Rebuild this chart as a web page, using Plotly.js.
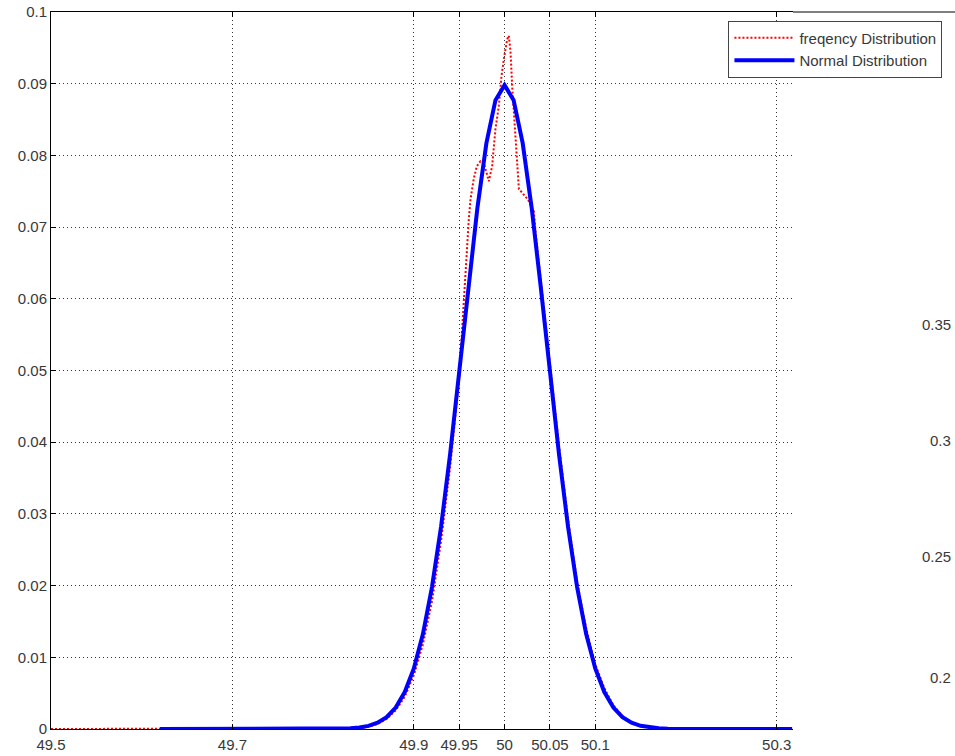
<!DOCTYPE html>
<html>
<head>
<meta charset="utf-8">
<script src="https://cdn.plot.ly/plotly-3.0.1.min.js"></script>
<style>
html,body{margin:0;padding:0;background:#fff;}
#chart{width:955px;height:756px;}
</style>
</head>
<body>
<div id="chart"></div>
<script>
// Frequency distribution (red dotted)
const freqX = [49.50, 49.60, 49.70, 49.80, 49.84, 49.85, 49.86, 49.87, 49.88, 49.89, 49.90, 49.91, 49.92, 49.93, 49.94, 49.95, 49.955, 49.9588, 49.9606, 49.9625, 49.966, 49.9695, 49.9735, 49.977, 49.980, 49.9827, 49.9863, 49.990, 49.9937, 49.9967, 49.9992, 50.0029, 50.0047, 50.0066, 50.0084, 50.0103, 50.0121, 50.0139, 50.0158, 50.0194, 50.026, 50.0323, 50.0342, 50.04, 50.05, 50.06, 50.07, 50.08, 50.09, 50.10, 50.11, 50.12, 50.13, 50.14, 50.15, 50.16, 50.20, 50.317];
const freqY = [0, 0, 0, 0, 0.0001, 0.0003, 0.0007, 0.0014, 0.0026, 0.0045, 0.0075, 0.0118, 0.0178, 0.0262, 0.0365, 0.0490, 0.0600, 0.0683, 0.0711, 0.0739, 0.0767, 0.0785, 0.0792, 0.0790, 0.0775, 0.0764, 0.0785, 0.0837, 0.0869, 0.0911, 0.0934, 0.0962, 0.0967, 0.0944, 0.0897, 0.0861, 0.0827, 0.0785, 0.0753, 0.0748, 0.0738, 0.0722, 0.0693, 0.0625, 0.0510, 0.0395, 0.0292, 0.0205, 0.0140, 0.0090, 0.0057, 0.0033, 0.0018, 0.0009, 0.0004, 0.0002, 0, 0];

// Normal distribution (blue solid)
const normX = [49.62, 49.80, 49.81, 49.82, 49.83, 49.84, 49.85, 49.86, 49.87, 49.88, 49.89, 49.90, 49.91, 49.92, 49.93, 49.94, 49.95, 49.96, 49.97, 49.98, 49.99, 50.00, 50.01, 50.02, 50.03, 50.04, 50.05, 50.06, 50.07, 50.08, 50.09, 50.10, 50.11, 50.12, 50.13, 50.14, 50.15, 50.16, 50.17, 50.18, 50.19, 50.20, 50.317];
const normY = [0, 0, 0.00002, 0.00004, 0.0001, 0.00021, 0.00044, 0.00087, 0.00166, 0.00299, 0.00515, 0.00845, 0.01324, 0.01979, 0.02821, 0.03835, 0.04974, 0.06153, 0.07260, 0.08170, 0.08770, 0.0898, 0.08770, 0.08170, 0.07260, 0.06153, 0.04974, 0.03835, 0.02821, 0.01979, 0.01324, 0.00845, 0.00515, 0.00299, 0.00166, 0.00087, 0.00044, 0.00021, 0.0001, 0.00004, 0.00002, 0, 0];

const xTicks = [49.5, 49.7, 49.9, 49.95, 50, 50.05, 50.1, 50.3];
const xTickText = ['49.5', '49.7', '49.9', '49.95', '50', '50.05', '50.1', '50.3'];
const yTicks = [0, 0.01, 0.02, 0.03, 0.04, 0.05, 0.06, 0.07, 0.08, 0.09, 0.1];
const yTickText = ['0', '0.01', '0.02', '0.03', '0.04', '0.05', '0.06', '0.07', '0.08', '0.09', '0.1'];

const seriesNames = ['freqency Distribution', 'Normal Distribution'];
const strayLabels = ['0.35', '0.3', '0.25', '0.2'];
const strayLabelY = [0.5635, 0.4017, 0.2399, 0.0725];

const FONT = 'Liberation Sans, Arial, sans-serif';
const TXT = '#383838';
const FS = 15;

const traces = [
  {x: freqX, y: freqY, type: 'scatter', mode: 'lines', name: seriesNames[0],
   line: {color: '#ff0000', width: 2, dash: '2px,2px'}},
  {x: normX, y: normY, type: 'scatter', mode: 'lines', name: seriesNames[1],
   line: {color: '#0000ff', width: 4}}
];

const layout = {
  width: 955, height: 756,
  margin: {l: 51, r: 162, t: 12, b: 27, pad: 0},
  paper_bgcolor: '#ffffff', plot_bgcolor: '#ffffff',
  font: {family: FONT, size: FS, color: TXT},
  showlegend: true,
  legend: {x: 0.913, y: 0.988, xanchor: 'left', yanchor: 'top',
           bgcolor: '#ffffff', bordercolor: '#444', borderwidth: 1,
           itemwidth: 60, tracegroupgap: 0,
           font: {family: FONT, size: FS, color: TXT}},
  xaxis: {range: [49.5, 50.318], tickmode: 'array', tickvals: xTicks, ticktext: xTickText,
          ticks: 'inside', ticklen: 5, tickcolor: '#000', tickwidth: 1,
          showline: true, linecolor: '#000', linewidth: 1, mirror: 'ticks',
          showgrid: true, gridcolor: '#333', gridwidth: 1, griddash: '1px,3px',
          zeroline: false, ticklabelstandoff: 2,
          tickfont: {family: FONT, size: FS, color: TXT}, automargin: false},
  yaxis: {range: [0, 0.1], tickmode: 'array', tickvals: yTicks, ticktext: yTickText,
          ticks: 'inside', ticklen: 5, tickcolor: '#000', tickwidth: 1,
          showline: true, linecolor: '#000', linewidth: 1, mirror: false,
          showgrid: true, gridcolor: '#333', gridwidth: 1, griddash: '1px,3px',
          zeroline: false,
          tickfont: {family: FONT, size: FS, color: TXT}, automargin: false},
  shapes: [
    {type: 'line', xref: 'paper', yref: 'paper', x0: 1, x1: 1.25, y0: 1, y1: 1,
     line: {color: '#000', width: 1}}
  ],
  annotations: strayLabels.map((t, i) => ({
    text: t, xref: 'paper', yref: 'paper', x: 1.216, y: strayLabelY[i],
    xanchor: 'right', yanchor: 'middle', showarrow: false,
    font: {family: FONT, size: FS, color: TXT}
  }))
};

Plotly.newPlot('chart', traces, layout, {displayModeBar: false, staticPlot: true});
</script>
</body>
</html>
